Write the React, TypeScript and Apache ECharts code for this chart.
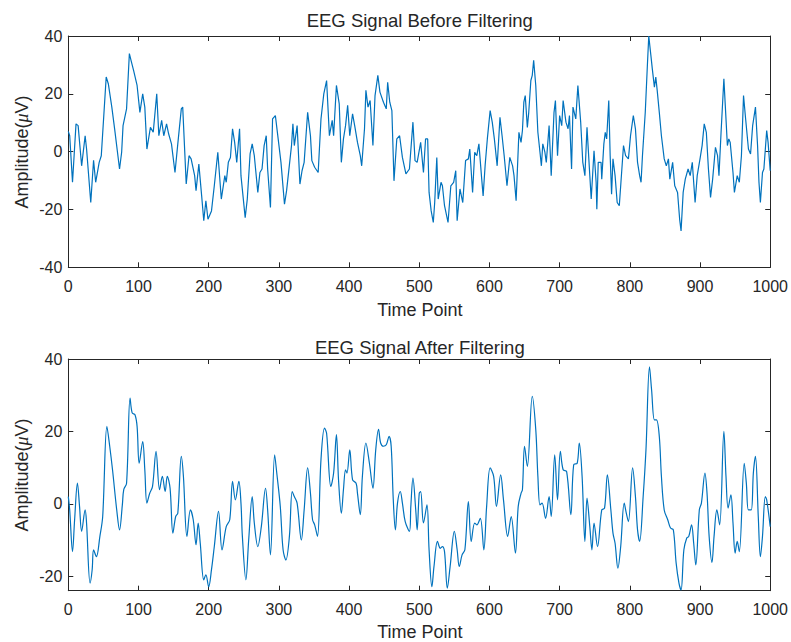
import React, { useEffect, useRef } from "react";
import * as echarts from "echarts";

// ---- Data ----
const beforeT = [0,2,6,11,14,19,24,26,32,36,39,44,47,54,57,62,66,73,76,78,83,87,90,93,98,102,106,109,112,117,121,126,129,133,136,140,143,147,152,156,161,163,168,172,175,180,182,186,190,193,196,199,204,208,213,218,223,225,228,231,234,237,240,244,
246,252,255,259,262,265,270,273,276,279,282,284,288,291,295,299,303,308,311,318,320,322,326,330,333,336,341,345,347,351,356,360,364,368,372,376,378,382,386,389,392,395,398,401,405,408,412,416,418,422,424,427,430,434,437,441,444,449,453,455,458,461,464,468,472,476,481,486,491,494,
497,502,506,509,512,514,517,520,522,525,527,531,533,536,541,545,549,552,554,558,562,566,570,572,576,579,582,585,589,591,594,597,601,604,607,611,615,618,621,625,629,633,635,638,642,645,647,649,651,654,656,659,661,663,666,669,672,674,676,679,681,685,688,692,694,697,700,703,705,709,712,714,717,719,723,726,730,733,736,739,743,
745,749,752,753,755,759,760,763,765,767,770,772,774,776,779,782,785,787,791,794,798,801,805,808,811,814,816,818,822,825,827,830,832,835,837,839,842,845,849,852,855,857,861,864,868,871,873,876,879,883,886,889,893,896,900,903,906,909,912,915,918,922,925,927,930,934,936,939,941,943,947,949,953,956,959,962,965,969,972,975,979,982,984,986,989,991,995,997,1000];
const beforeV = [7,5.5,-10.6,9.6,9,-4.9,5.5,1,-17.6,-3,-10.6,-3.7,-1.4,25.8,23.5,15.4,7.9,-6,-0.2,9,14.8,33.9,31,28.1,22.9,13.6,20,15.4,0.9,8.4,6.7,20,5.5,10.8,5.5,9.6,6.1,2.7,-7.2,2.7,14.8,15.4,-11.2,-1.4,-2.5,-8.3,-13.5,-4.3,-15.3,-23.9,-17,-23.4,-20.5,-11.8,-0.2,-16.4,-8.3,-10.6,-3.7,-2,7.9,3.2,-3.7,7.9,
-8.3,-22.8,-16.4,-0.8,2.7,-1.4,-14.1,-7.2,-6,2.1,5.5,-6,-19.3,11.3,12.5,4.4,-3.7,-18.2,-13.5,2.1,9.6,2.1,9,-11.2,-6.6,-3.7,13.6,5.5,-3.1,-5.4,-7.2,11.3,20,24.6,5.5,10.8,5.5,22.9,16.5,-3.7,4.4,9,16,5.5,13.1,9,3.2,-1.4,-4.9,7.9,21.2,15.4,17.7,2.1,19.4,26.4,20.6,17.1,14.8,24,17.1,14.2,-10.1,4.4,5.5,-2,-7.7,-6,10.2,-3.1,
-3.7,3.2,-7.2,4.4,4.4,-14.1,-20.5,-24.5,-17.6,-2,-16.4,-10.6,-11.8,-18.7,-24.5,-11.8,-10.6,-6.6,-23.9,-12.9,-17.6,-3.1,-2.5,0.9,-14.1,-0.2,-1.4,2.7,-9.5,-15.3,-4.3,4.4,14.2,10.2,4.4,-4.9,11.9,5.5,-1.4,-11.8,-2,-4.9,-8.3,-17,6.7,3.2,7.3,17.1,19.4,8.4,13.6,24.6,26.4,31.6,22.9,6.7,-0.2,-4.9,2.7,-0.2,-3.7,9,-8.3,13.6,17.7,-1.4,12.5,9,17.7,10.2,7.9,12.5,-6,15.4,11.3,22.9,10.2,-3.7,-8.3,8.4,-8.3,
-16.4,0.3,-10.6,-19.9,-3.7,-3.7,-9.5,2.7,6.7,4.4,17.7,-1.4,-14.7,-2.5,-8.3,-17.6,-18.7,-11.8,2.1,-1.4,-2.5,5.5,12.5,7.9,-3.7,-8.3,-10.6,-1.4,13.6,29.8,40,33.3,28.7,22.3,25.8,21.2,13.6,5.5,-2.5,-4.9,-2.5,-9.5,-3.7,-11.8,-14.1,-23.4,-27.4,-14.1,-9.5,-6,-8.3,-3.7,-17.6,-8.3,-2.5,2.1,9.6,6.7,-6,-15.8,-9.5,1.5,-1.4,-8.3,6.7,25.2,16,2.1,4.4,3.2,-7.2,-14.1,-8.3,-10.6,-1.4,19.4,11.3,0.9,-0.8,9,15.4,2.1,-10.6,-17.6,-7.2,-6,7.3,3.2,-6.6];

const afterT = [0,2,6,9,13,16,19,24,26,31,34,36,40,45,49,55,59,63,69,73,77,79,83,88,91,95,98,101,106,109,112,116,120,125,130,134,138,141,145,149,153,156,161,164,169,174,178,182,185,188,193,196,200,204,208,214,219,225,230,234,238,243,246,
248,253,257,262,265,270,275,281,284,288,294,297,302,306,310,315,319,322,326,332,336,341,345,348,351,355,360,365,368,374,378,382,385,389,392,395,397,401,405,410,412,416,419,424,429,434,438,442,445,449,453,457,460,463,466,469,473,476,480,486,488,491,495,
497,500,502,506,511,514,518,521,526,530,533,536,540,544,550,554,557,561,565,570,574,579,582,587,592,596,601,606,610,616,620,626,631,637,641,645,647,650,654,661,666,669,672,675,680,685,688,693,697,701,705,710,716,720,725,728,732,736,739,743,
746,749,754,760,764,768,773,776,779,783,787,792,795,798,804,808,811,814,819,823,828,831,835,838,842,845,849,854,858,862,866,870,873,877,881,884,888,891,894,899,902,907,910,913,917,920,924,928,934,937,940,944,947,950,953,956,963,966,969,973,976,979,983,986,989,993,995,1000];
const afterV = [2,-1.7,-13.2,-4.4,5.7,-0.7,-7.6,-1.7,-5.3,-21.9,-18.2,-12.7,-14.6,-9,-3.5,21.4,15.9,9.4,-1.7,-7.2,-0.3,3.9,5.7,29.2,25.1,24.6,21.4,11.2,17.2,9.4,0.2,2.9,4.8,14.5,3.9,7.6,3.4,7.6,4.3,-8.1,-3.5,-2.6,13.1,7.6,-9,-1.7,-4.4,-11.3,-5.3,-10.9,-21,-19.6,-22.9,-18.2,-11.8,-2.1,-12.7,-6.3,-4.4,6.2,1.1,6.2,0.2,
-9,-21,-10,2,-5.3,-11.8,-6.3,4.3,-1.7,-14.1,13.5,8.5,-0.7,-12.7,-15.5,-9,3.4,2,0.2,-10,-1.7,9.9,2.9,-4.4,-5.8,-9,12.2,20.9,19.5,4.8,8.5,19.1,6.6,-2.6,3.9,9.4,8.5,14.9,6.6,5.7,2.9,-3,7.6,16.8,11.2,4.3,14.9,20.6,16.8,15.9,16.3,18.6,15.9,1.1,-7.2,0.2,3.4,0.2,-4.9,-7.6,-0.7,7.1,-1.7,
-7.2,2.9,3.4,-5.3,-0.3,-12.7,-22.9,-17.3,-10.4,-12.3,-11.8,-13.2,-23.3,-17.3,-7.6,-12.7,-17.3,-14.1,-12.7,0.6,-10.4,-5.3,-5.8,-4,-12.7,-0.7,9.9,7.6,-0.7,8,1.1,-9,-3.5,-13.6,-0.7,2.9,3.9,15.9,10.3,29.7,20.5,7.6,-0.3,0.2,-4,2,-3.5,13.5,1.1,14.5,9.4,8.9,-3,10.8,11.2,16.8,7.6,-10.4,1.6,-6.3,
-12.7,-5.3,-11.8,-1.7,-1.2,8,-1.7,-8.1,-10.9,-17.8,-11.8,0.2,-2.6,-4.9,9.9,2,-7.2,-10.4,2,14.9,37.8,31.5,23.2,23.2,18.6,7.6,-1.7,-4.4,-6.7,-7.2,-16.4,-21.9,-23.8,-12.7,-9.5,-9,-5.8,-10.9,-16.9,-1.7,0.2,8.5,2.9,-9,-16.2,-9,-1.7,-5.8,20,7.6,-1.2,2.5,-5.3,-13.6,-10.4,-13.2,11.2,5.7,-1.7,-1.7,8.5,13.1,-3.5,-14.6,-9,2,1.1,-6.3];

const xTicks = [0, 100, 200, 300, 400, 500, 600, 700, 800, 900, 1000];
const topYTicks = [-40, -20, 0, 20, 40];
const bottomYTicks = [-20, 0, 20, 40];
const titles = ["EEG Signal Before Filtering", "EEG Signal After Filtering"];
const xLabelText = "Time Point";

const FONT = "'Liberation Sans', Arial, Helvetica, sans-serif";
const AX = "#262626";
const LINE = "#0072BD";

export default function App() {
  const ref = useRef<HTMLDivElement>(null);
  useEffect(() => {
    if (!ref.current) return;
    const chart = echarts.init(ref.current, undefined, { renderer: "svg" });
    const pairs = (t: number[], v: number[]) => t.map((x, i) => [x, v[i]]);

    const gridL = 68.3;
    const gridW = 703;
    const grids = [
      { left: gridL, top: 36, width: gridW, height: 231.3 },
      { left: gridL, top: 359, width: gridW, height: 231.7 },
    ];

    const tickStyle = { show: true, inside: true, length: 5, lineStyle: { color: AX, width: 1 } };
    const lineStyleAx = { show: true, onZero: false, lineStyle: { color: AX, width: 1 } };

    const xAxisFor = (g: number, pos: "bottom" | "top") => ({
      gridIndex: g,
      type: "value",
      position: pos,
      min: xTicks[0],
      max: xTicks[xTicks.length - 1],
      interval: 100,
      axisLine: lineStyleAx,
      axisTick: tickStyle,
      splitLine: { show: false },
      axisLabel: {
        show: pos === "bottom",
        margin: 11,
        fontSize: 16,
        fontFamily: FONT,
        color: AX,
        showMinLabel: true,
        showMaxLabel: true,
        formatter: (v: number) => String(v),
      },
    });

    const yAxisFor = (g: number, pos: "left" | "right") => {
      const base: any = {
        gridIndex: g,
        type: "value",
        position: pos,
        axisLine: lineStyleAx,
        splitLine: { show: false },
        axisLabel: {
          show: pos === "left",
          margin: 6,
          fontSize: 16,
          fontFamily: FONT,
          color: AX,
          formatter: (v: number) => String(v),
        },
        axisTick: { ...tickStyle },
      };
      if (g === 0) {
        base.min = topYTicks[0];
        base.max = topYTicks[topYTicks.length - 1];
        base.interval = 20;
      } else {
        base.min = -24;
        base.max = 40;
        base.axisLabel.customValues = bottomYTicks;
        base.axisTick.customValues = bottomYTicks;
      }
      return base;
    };

    const cx = gridL + gridW / 2;
    const textEl = (text: string, x: number, y: number, size: number) => ({
      type: "text",
      x,
      y,
      silent: true,
      style: {
        text,
        fill: AX,
        fontSize: size,
        fontFamily: FONT,
        align: "center",
        verticalAlign: "middle",
        textAlign: "center",
        textVerticalAlign: "middle",
      },
    });
    const yLabelEl = (y: number) => ({
      type: "text",
      x: 22,
      y,
      rotation: Math.PI / 2,
      silent: true,
      style: {
        text: "Amplitude({m|μ}V)",
        fill: AX,
        fontSize: 18,
        fontFamily: FONT,
        align: "center",
        verticalAlign: "middle",
        textAlign: "center",
        textVerticalAlign: "middle",
        rich: {
          m: { fontStyle: "italic", fontSize: 18, fontFamily: "'Liberation Serif', 'DejaVu Serif', serif", fill: AX },
        },
      },
    });

    chart.setOption({
      animation: false,
      backgroundColor: "#ffffff",
      grid: grids,
      xAxis: [xAxisFor(0, "bottom"), xAxisFor(0, "top"), xAxisFor(1, "bottom"), xAxisFor(1, "top")],
      yAxis: [yAxisFor(0, "left"), yAxisFor(0, "right"), yAxisFor(1, "left"), yAxisFor(1, "right")],
      series: [
        {
          type: "line",
          xAxisIndex: 0,
          yAxisIndex: 0,
          data: pairs(beforeT, beforeV),
          showSymbol: false,
          symbol: "none",
          lineStyle: { color: LINE, width: 1.2 },
        },
        {
          type: "line",
          xAxisIndex: 2,
          yAxisIndex: 2,
          data: pairs(afterT, afterV),
          showSymbol: false,
          symbol: "none",
          smooth: 0.35,
          lineStyle: { color: LINE, width: 1.2 },
        },
      ],
      graphic: [
        textEl(titles[0], cx, 20, 18.5),
        textEl(titles[1], cx, 347, 18.5),
        textEl(xLabelText, cx, 310, 18),
        textEl(xLabelText, cx, 632, 18),
        yLabelEl(152),
        yLabelEl(475),
      ],
    });
    return () => chart.dispose();
  }, []);
  return (
    <div
      ref={ref}
      style={{ position: "absolute", left: 0, top: 0, width: 791, height: 642, background: "#fff" }}
    />
  );
}
